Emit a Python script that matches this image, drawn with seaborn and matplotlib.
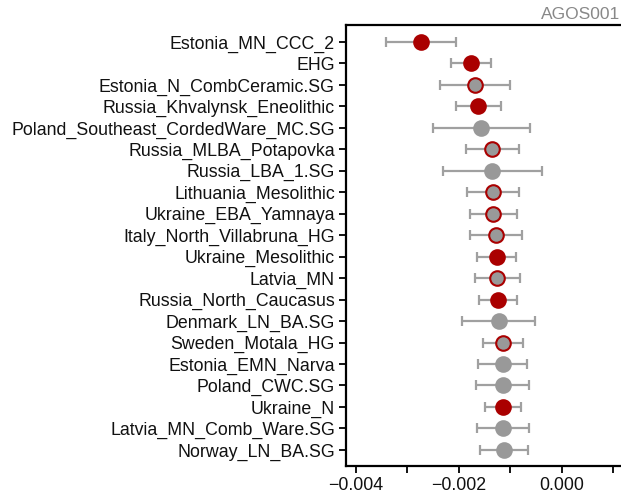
import matplotlib
matplotlib.use("Agg")
import matplotlib.pyplot as plt
import seaborn as sns
import pandas as pd
import numpy as np

populations = [
    "Estonia_MN_CCC_2", "EHG", "Estonia_N_CombCeramic.SG", "Russia_Khvalynsk_Eneolithic",
    "Poland_Southeast_CordedWare_MC.SG", "Russia_MLBA_Potapovka", "Russia_LBA_1.SG",
    "Lithuania_Mesolithic", "Ukraine_EBA_Yamnaya", "Italy_North_Villabruna_HG",
    "Ukraine_Mesolithic", "Latvia_MN", "Russia_North_Caucasus", "Denmark_LN_BA.SG",
    "Sweden_Motala_HG", "Estonia_EMN_Narva", "Poland_CWC.SG", "Ukraine_N",
    "Latvia_MN_Comb_Ware.SG", "Norway_LN_BA.SG",
]
estimate = [
    -0.002735, -0.001767, -0.001689, -0.001617, -0.001559, -0.001351, -0.001345,
    -0.001338, -0.001332, -0.001273, -0.001267, -0.001254, -0.001241, -0.001228,
    -0.001144, -0.001144, -0.001144, -0.001137, -0.001137, -0.001124,
]
error = [
    0.000682, 0.000393, 0.000682, 0.000438, 0.000935, 0.000516, 0.000952,
    0.000510, 0.000455, 0.000507, 0.000387, 0.000436, 0.000367, 0.000717,
    0.000384, 0.000474, 0.000513, 0.000348, 0.000503, 0.000471,
]
# status: "sig" = red, "mid" = gray with red edge, "ns" = gray
status = [
    "sig", "sig", "mid", "sig", "ns", "mid", "ns", "mid", "mid", "mid",
    "sig", "mid", "sig", "ns", "mid", "ns", "ns", "sig", "ns", "ns",
]
title = "AGOS001"

df = pd.DataFrame({"pop": populations, "est": estimate, "err": error, "status": status})
df["y"] = np.arange(len(df))

RED = "#aa0000"
GRAY = "#999999"
face = {"sig": RED, "mid": GRAY, "ns": GRAY}
edge = {"sig": RED, "mid": RED, "ns": GRAY}

sns.set_style("ticks")
plt.rcParams["font.family"] = ["Liberation Sans", "DejaVu Sans"]

FS = 12.8
fig = plt.figure(figsize=(6.21, 4.97), dpi=100)
ax = fig.add_axes([346 / 621, 1 - 466 / 497, 1 - 346 / 621 + 0.002, (466 - 25) / 497])

ax.errorbar(df["est"], df["y"], xerr=df["err"], fmt="none", ecolor="#a0a0a0",
            elinewidth=1.6, capsize=3.5, capthick=1.6, zorder=1)

for st in ["ns", "mid", "sig"]:
    sub = df[df["status"] == st]
    sns.scatterplot(data=sub, x="est", y="y", ax=ax, s=110, color=face[st],
                    edgecolor=edge[st], linewidth=1.5, zorder=3, legend=False)

ax.set_ylim(19.75, -0.79)
ax.set_xlim(-0.00419, 0.001175)
ax.set_yticks(df["y"])
ax.set_yticklabels(df["pop"], fontsize=FS, color="#111111")
xt = [-0.004, -0.003, -0.002, -0.001, 0.0, 0.001]
ax.set_xticks(xt)
ax.set_xticklabels(["\u22120.004", "", "\u22120.002", "", "0.000", ""], fontsize=FS, color="#111111")
ax.set_xlabel("")
ax.set_ylabel("")
ax.tick_params(axis="both", length=5, width=1.3, color="black", pad=3)
for s in ["left", "bottom", "top"]:
    ax.spines[s].set_visible(True)
    ax.spines[s].set_linewidth(1.6)
    ax.spines[s].set_color("black")
ax.spines["right"].set_visible(False)

fig.text(0.998, 1 - 19 / 497, title, ha="right", va="baseline", fontsize=12.5, color="#888888")

fig.savefig("out.png", dpi=100)
